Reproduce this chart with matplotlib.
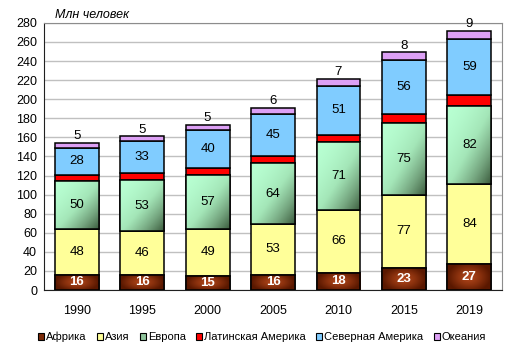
import numpy as np
import matplotlib
matplotlib.use("Agg")
import matplotlib.pyplot as plt
from matplotlib.colors import LinearSegmentedColormap
from matplotlib.patches import Patch

plt.rcParams['font.family'] = ['Liberation Sans', 'DejaVu Sans']

years = ['1990', '1995', '2000', '2005', '2010', '2015', '2019']
africa = [16, 16, 15, 16, 18, 23, 27]
asia = [48, 46, 49, 53, 66, 77, 84]
europe = [50, 53, 57, 64, 71, 75, 82]
latam = [7, 8, 7, 7, 8, 10, 11]
namerica = [28, 33, 40, 45, 51, 56, 59]
oceania = [5, 5, 5, 6, 7, 8, 9]

names = ['Африка', 'Азия', 'Европа', 'Латинская Америка',
         'Северная Америка', 'Океания']
series = [africa, asia, europe, latam, namerica, oceania]
colors = ['#7a2a08', '#ffff99', '#9fd6ad', '#ff0000', '#80ccff', '#dda0f5']
labelled = [True, True, True, False, True, True]

fig = plt.figure(figsize=(5.16, 3.52), dpi=100)
ax = fig.add_axes([0.0853, 0.176, 0.8876, 0.759])

x = np.arange(len(years))
width = 0.67
bottom = np.zeros(len(years))

europe_cmap = LinearSegmentedColormap.from_list(
    'eu', ['#b8ffd2', '#a4e6b8', '#74a47e', '#3c5c3e'])
africa_cmap = LinearSegmentedColormap.from_list(
    'af', ['#b4481c', '#8c320e', '#5a1800'])

gy, gx = np.mgrid[0:1:60j, 0:1:60j]
eu_grad = np.clip((gx + gy) / 2.0, 0, 1) ** 1.7
af_grad = np.clip(np.sqrt(((gx - 0.5) / 0.5) ** 2 + ((gy - 0.5) / 0.6) ** 2), 0, 1)

for k, (vals, col) in enumerate(zip(series, colors)):
    bars = ax.bar(x, vals, width, bottom=bottom, color=col,
                  edgecolor='black', linewidth=1.1, zorder=3)
    for i, b in enumerate(bars):
        x0, y0 = b.get_x(), b.get_y()
        w, h = b.get_width(), b.get_height()
        if k == 0 or k == 2:
            grad = af_grad if k == 0 else eu_grad
            cmap = africa_cmap if k == 0 else europe_cmap
            im = ax.imshow(grad, cmap=cmap, extent=[x0, x0 + w, y0, y0 + h],
                           origin='upper', aspect='auto', zorder=3.5,
                           interpolation='bilinear')
            im.set_clip_path(b)
            ax.bar(x0 + w / 2, h, w, bottom=y0, facecolor='none',
                   edgecolor='black', linewidth=1.1, zorder=4)
        if not labelled[k]:
            continue
        if k == 5:
            ax.text(x0 + w / 2, y0 + h + 0.8, str(vals[i]), ha='center',
                    va='bottom', fontsize=9.5, zorder=5)
        elif k == 0:
            ax.text(x0 + w / 2, y0 + h / 2, str(vals[i]), ha='center',
                    va='center', fontsize=9.5, color='white',
                    fontweight='bold', zorder=5)
        else:
            ax.text(x0 + w / 2, y0 + h / 2, str(vals[i]), ha='center',
                    va='center', fontsize=9.5, zorder=5)
    bottom += np.array(vals)

ax.set_xlim(-0.5, len(years) - 0.5)
ax.set_ylim(0, 280)
ax.set_yticks(range(0, 281, 20))
ax.set_xticks(x)
ax.set_xticklabels(years)
ax.tick_params(axis='both', length=0, labelsize=9)
ax.tick_params(axis='x', pad=11)
ax.tick_params(axis='y', pad=5)
ax.yaxis.grid(True, color='#c0c0c0', linewidth=1, zorder=0)
ax.set_axisbelow(True)
for side in ['top', 'right']:
    ax.spines[side].set_color('#8c8c8c')
for side in ['left', 'bottom']:
    ax.spines[side].set_color('#202020')

fig.text(0.107, 0.958, 'Млн человек', fontsize=9, style='italic',
         ha='left', va='center')

handles = [Patch(facecolor=c, edgecolor='black', linewidth=0.8) for c in colors]
handles[2] = Patch(facecolor='#8fc49c', edgecolor='black', linewidth=0.8)
fig.legend(handles, names, loc='center', bbox_to_anchor=(0.508, 0.043),
           ncol=6, frameon=False, fontsize=8, handlelength=0.55,
           handleheight=0.55, handletextpad=0.2, columnspacing=0.9)

fig.savefig('out.png', dpi=100)
